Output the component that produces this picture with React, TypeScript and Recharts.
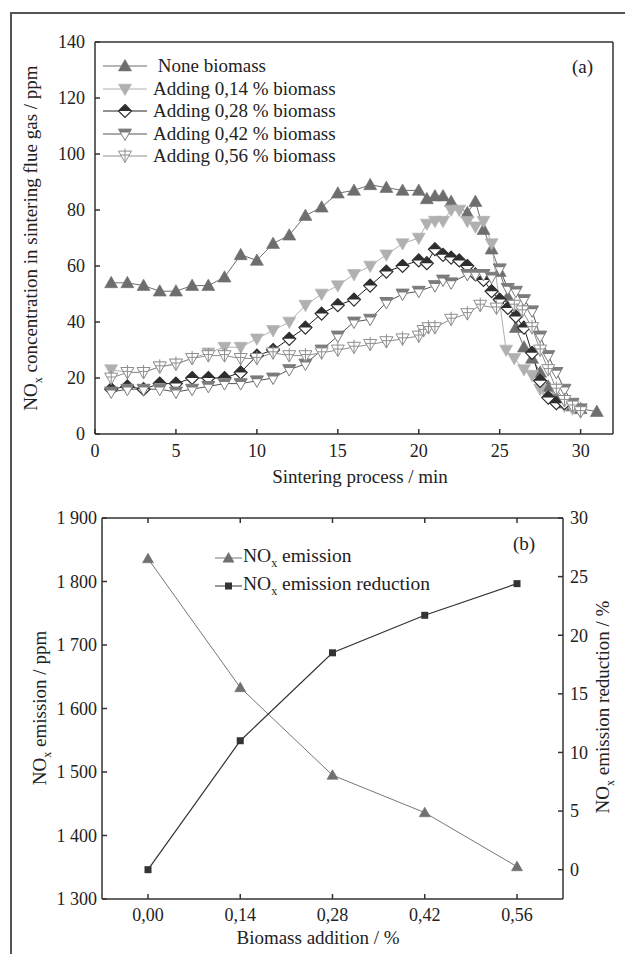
import React from 'react';
import { LineChart, Line, XAxis, YAxis, Legend, Label } from 'recharts';

const FONT = '"Liberation Serif", "Times New Roman", serif';

// (a) NOx concentration in flue gas, [minute, ppm]
const noneBiomass = [
  [1, 54], [2, 54], [3, 53], [4, 51], [5, 51], [6, 53], [7, 53], [8, 56], [9, 64], [10, 62],
  [11, 68], [12, 71], [13, 78], [14, 81], [15, 86], [16, 87], [17, 89], [18, 88], [19, 87], [20, 87],
  [20.5, 84], [21, 85], [21.5, 85], [22, 83], [23, 79], [23.5, 83], [24, 73], [24.5, 66], [25, 58],
  [25.5, 49], [26, 38], [26.5, 31], [27, 27], [27.5, 22], [28, 17], [28.5, 13], [29, 11], [29.5, 10],
  [30, 9], [31, 8],
];
const add014 = [
  [1, 23], [2, 22], [3, 22], [4, 24], [5, 25], [6, 27], [7, 29], [8, 31], [9, 31], [10, 34],
  [11, 37], [12, 40], [13, 46], [14, 50], [15, 53], [16, 57], [17, 60], [18, 64], [19, 68], [20, 70],
  [20.5, 75], [21, 76], [21.5, 76], [22, 80], [22.5, 80], [23, 76], [23.5, 74], [24, 76], [24.5, 68],
  [25.4, 30], [25.9, 27], [26.5, 23], [27, 21], [27.5, 16], [28, 13], [28.5, 11], [29, 10], [29.5, 9],
  [30, 8],
];
const add028 = [
  [1, 16], [2, 17], [3, 16], [4, 18], [5, 18], [6, 20], [7, 20], [8, 20], [9, 22], [10, 28],
  [11, 30], [12, 34], [13, 38], [14, 43], [15, 46], [16, 48], [17, 53], [18, 58], [19, 60], [20, 62],
  [20.5, 61], [21, 66], [21.5, 64], [22, 63], [22.5, 62], [23, 60], [23.5, 57], [24, 55], [24.5, 51],
  [25, 48], [25.5, 45], [26, 42], [26.5, 38], [27, 29], [27.5, 19], [28, 13], [28.5, 11], [29, 11],
];
const add042 = [
  [1, 15], [2, 16], [3, 16], [4, 16], [5, 15], [6, 16], [7, 17], [8, 18], [9, 18], [10, 19],
  [11, 20], [12, 23], [13, 25], [14, 30], [15, 35], [16, 40], [17, 41], [18, 47], [19, 50], [20, 51],
  [21, 53], [21.5, 55], [22, 54], [23, 57], [23.5, 57], [24, 57], [24.5, 56], [25, 59], [25.5, 52],
  [26, 51], [26.5, 48], [27, 44], [27.5, 35], [28, 28], [28.5, 22], [29, 16], [29.5, 11], [30, 9],
];
const add056 = [
  [1, 20], [2, 22], [3, 22], [4, 24], [5, 25], [6, 27], [7, 28], [8, 28], [9, 27], [10, 27],
  [11, 29], [12, 28], [13, 28], [14, 29], [15, 30], [16, 31], [17, 32], [18, 33], [19, 34], [20, 35],
  [20.3, 37], [20.6, 38], [21, 38], [22, 41], [23, 43], [23.8, 46], [24.8, 45], [25.9, 46], [26.4, 44],
  [27, 38], [27.5, 30], [28, 23], [28.5, 16], [29, 12], [29.5, 10], [30, 8],
];
const timeTicks = [0, 5, 10, 15, 20, 25, 30];
const ppmTicks = [0, 20, 40, 60, 80, 100, 120, 140];

// (b) emission vs biomass addition
const additions = ['0,00', '0,14', '0,28', '0,42', '0,56'];
const emission = [1836, 1633, 1495, 1436, 1351];
const reduction = [0, 11.0, 18.5, 21.7, 24.4];
const emissionTicks = [1300, 1400, 1500, 1600, 1700, 1800, 1900];
const reductionTicks = [0, 5, 10, 15, 20, 25, 30];

type Marker = (cx: number, cy: number) => React.ReactNode;

const upTri = (fill: string, s = 6.5): Marker => (cx, cy) => (
  <path d={`M${cx},${cy - s}L${cx + s},${cy + s * 0.75}L${cx - s},${cy + s * 0.75}Z`} fill={fill} stroke={fill} strokeWidth={0.6} />
);
const downTri = (fill: string, s = 6.5): Marker => (cx, cy) => (
  <path d={`M${cx - s},${cy - s * 0.75}L${cx + s},${cy - s * 0.75}L${cx},${cy + s}Z`} fill={fill} stroke={fill} strokeWidth={0.6} />
);
const halfDiamond = (c: string): Marker => (cx, cy) => (
  <g>
    <path d={`M${cx},${cy - 6.5}L${cx + 6.5},${cy}L${cx},${cy + 6.5}L${cx - 6.5},${cy}Z`} fill="#fff" stroke={c} strokeWidth={1.2} />
    <path d={`M${cx},${cy - 6.5}L${cx + 6.5},${cy}L${cx - 6.5},${cy}Z`} fill={c} />
  </g>
);
const bandTri = (c: string): Marker => (cx, cy) => (
  <g>
    <path d={`M${cx - 6.5},${cy - 4.9}L${cx + 6.5},${cy - 4.9}L${cx},${cy + 6.5}Z`} fill="#fff" stroke={c} strokeWidth={1} />
    <path d={`M${cx - 6.5},${cy - 4.9}L${cx + 6.5},${cy - 4.9}L${cx + 4.6},${cy - 1.6}L${cx - 4.6},${cy - 1.6}Z`} fill={c} />
  </g>
);
const plusTri = (c: string): Marker => (cx, cy) => (
  <g stroke={c} strokeWidth={1} fill="none">
    <path d={`M${cx - 6.5},${cy - 4.9}L${cx + 6.5},${cy - 4.9}L${cx},${cy + 6.5}Z`} fill="#fff" />
    <path d={`M${cx},${cy - 7.5}L${cx},${cy + 6.5}M${cx - 4.5},${cy - 1}L${cx + 4.5},${cy - 1}`} />
  </g>
);
const square = (fill: string): Marker => (cx, cy) => (
  <rect x={cx - 3.5} y={cy - 3.5} width={7} height={7} fill={fill} />
);

const toPts = (pairs: number[][]) => pairs.map(([t, v]) => ({ t, v }));

const seriesA = [
  { name: ' None biomass', data: toPts(noneBiomass), line: '#6e6e6e', mark: upTri('#6e6e6e') },
  { name: 'Adding 0,14 % biomass', data: toPts(add014), line: '#b0b0b0', mark: downTri('#b0b0b0') },
  { name: 'Adding 0,28 % biomass', data: toPts(add028), line: '#222', mark: halfDiamond('#2e2e2e') },
  { name: 'Adding 0,42 % biomass', data: toPts(add042), line: '#555', mark: bandTri('#7c7c7c') },
  { name: 'Adding 0,56 % biomass', data: toPts(add056), line: '#8e8e8e', mark: plusTri('#8e8e8e') },
];

const rowsB = additions.map((a, i) => ({ addition: a, emission: emission[i], reduction: reduction[i] }));

const markEmission = upTri('#707070', 5.5);
const markReduction = square('#333');

const axisLine = { stroke: '#333', strokeWidth: 1.5 };
const tickStyle = { fontSize: 18, fill: '#222', fontFamily: FONT };
const blank = () => '';

const dotOf = (mark: Marker) => (p: any) => <g key={p.index}>{mark(p.cx, p.cy)}</g>;

const NOx = ({ rest }: { rest: string }) => (
  <>
    NO<tspan dy={5} fontSize={12}>x</tspan>
    <tspan dy={-5}>{rest}</tspan>
  </>
);

export default function App() {
  return (
    <div style={{ position: 'absolute', left: 0, top: 0, width: 625, height: 954, background: '#fff', overflow: 'hidden', fontFamily: FONT }}>
      <div style={{ position: 'absolute', left: 10, top: 12, width: 650, height: 980, borderLeft: '2px solid #555', borderTop: '2px solid #555' }} />

      <div style={{ position: 'absolute', left: 0, top: 0 }}>
        <LineChart width={625} height={500} margin={{ top: 41, right: 0, bottom: 36, left: 0 }}>
          <XAxis xAxisId="b" type="number" dataKey="t" domain={[0, 32]} ticks={timeTicks} allowDuplicatedCategory={false}
            axisLine={axisLine} tickLine={axisLine} tickSize={-5} tickMargin={15} tick={tickStyle} height={30}>
            <Label content={() => (
              <text x={360} y={483} textAnchor="middle" fontSize={19} fontFamily={FONT} fill="#222">Sintering process / min</text>
            )} />
          </XAxis>
          <XAxis xAxisId="top" orientation="top" type="number" domain={[0, 32]} ticks={timeTicks}
            axisLine={axisLine} tickLine={axisLine} tickSize={-5} tickFormatter={blank} height={1} />
          <YAxis yAxisId="l" type="number" domain={[0, 140]} ticks={ppmTicks} width={95}
            axisLine={axisLine} tickLine={axisLine} tickSize={-5} tickMargin={15} tick={tickStyle}>
            <Label content={() => (
              <text transform="translate(37,238) rotate(-90)" textAnchor="middle" fontSize={19} fontFamily={FONT} fill="#222">
                <NOx rest=" concentration in sintering flue gas / ppm" />
              </text>
            )} />
          </YAxis>
          <YAxis yAxisId="r" orientation="right" type="number" domain={[0, 140]} ticks={ppmTicks} width={12}
            axisLine={axisLine} tickLine={axisLine} tickSize={-5} tickFormatter={blank} />
          <Legend layout="horizontal" align="center" verticalAlign="middle" width={270}
            wrapperStyle={{ left: 101, top: 55 }}
            content={() => (
              <div style={{ fontFamily: FONT, fontSize: 19, color: '#222' }}>
                {seriesA.map((s) => (
                  <div key={s.name} style={{ height: 22.5, display: 'flex', alignItems: 'center', whiteSpace: 'pre' }}>
                    <svg width={48} height={16} style={{ flex: 'none' }}>
                      <line x1={2} x2={46} y1={8} y2={8} stroke={s.line} strokeWidth={1} />
                      {s.mark(24, 8)}
                    </svg>
                    <span style={{ marginLeft: 4 }}>{s.name}</span>
                  </div>
                ))}
              </div>
            )} />
          {seriesA.map((s) => (
            <Line key={s.name} xAxisId="b" yAxisId="l" data={s.data} dataKey="v" type="linear"
              stroke={s.line} strokeWidth={1} dot={dotOf(s.mark)} activeDot={false} isAnimationActive={false} />
          ))}
        </LineChart>
      </div>
      <div style={{ position: 'absolute', left: 572, top: 56, fontSize: 19, color: '#222' }}>(a)</div>

      <div style={{ position: 'absolute', left: 0, top: 500 }}>
        <LineChart width={625} height={454} data={rowsB} margin={{ top: 17, right: 0, bottom: 25, left: 0 }}>
          <XAxis xAxisId="b" dataKey="addition" padding={{ left: 46, right: 46 }} axisLine={axisLine} tickLine={axisLine}
            tickSize={-5} tickMargin={14} tick={tickStyle} height={30}>
            <Label content={() => (
              <text x={318} y={444} textAnchor="middle" fontSize={19} fontFamily={FONT} fill="#222">Biomass addition / %</text>
            )} />
          </XAxis>
          <XAxis xAxisId="top" orientation="top" dataKey="addition" padding={{ left: 46, right: 46 }} axisLine={axisLine}
            tickLine={axisLine} tickSize={-5} tickFormatter={blank} height={1} />
          <YAxis yAxisId="l" type="number" domain={[1300, 1900]} ticks={emissionTicks} width={102}
            axisLine={axisLine} tickLine={axisLine} tickSize={-5} tickMargin={10} tick={tickStyle}
            tickFormatter={(v: number) => `${Math.floor(v / 1000)} ${String(v % 1000).padStart(3, '0')}`}>
            <Label content={() => (
              <text transform="translate(46,208) rotate(-90)" textAnchor="middle" fontSize={19} fontFamily={FONT} fill="#222">
                <NOx rest=" emission / ppm" />
              </text>
            )} />
          </YAxis>
          <YAxis yAxisId="r" orientation="right" type="number" domain={[-2.5, 30]} ticks={reductionTicks} width={62}
            axisLine={axisLine} tickLine={axisLine} tickSize={-5} tickMargin={12} tick={tickStyle}>
            <Label content={() => (
              <text transform="translate(609,207) rotate(-90)" textAnchor="middle" fontSize={19} fontFamily={FONT} fill="#222">
                <NOx rest=" emission reduction / %" />
              </text>
            )} />
          </YAxis>
          <Legend layout="horizontal" align="center" verticalAlign="middle" width={280}
            wrapperStyle={{ left: 213, top: 44 }}
            content={() => (
              <div style={{ fontFamily: FONT, fontSize: 19.5, color: '#222' }}>
                {[
                  { name: ' emission', line: '#777', mark: markEmission },
                  { name: ' emission reduction', line: '#333', mark: markReduction },
                ].map((s) => (
                  <div key={s.name} style={{ height: 28, display: 'flex', alignItems: 'center', whiteSpace: 'pre' }}>
                    <svg width={30} height={16} style={{ flex: 'none' }}>
                      <line x1={2} x2={29} y1={8} y2={8} stroke={s.line} strokeWidth={1} />
                      {s.mark(15.5, 8)}
                    </svg>
                    <span>NO<sub style={{ fontSize: 12 }}>x</sub>{s.name}</span>
                  </div>
                ))}
              </div>
            )} />
          <Line xAxisId="b" yAxisId="l" dataKey="emission" type="linear" stroke="#777" strokeWidth={1}
            dot={dotOf(markEmission)} activeDot={false} isAnimationActive={false} />
          <Line xAxisId="b" yAxisId="r" dataKey="reduction" type="linear" stroke="#333" strokeWidth={1.2}
            dot={dotOf(markReduction)} activeDot={false} isAnimationActive={false} />
        </LineChart>
      </div>
      <div style={{ position: 'absolute', left: 513, top: 533, fontSize: 19, color: '#222' }}>(b)</div>
    </div>
  );
}
